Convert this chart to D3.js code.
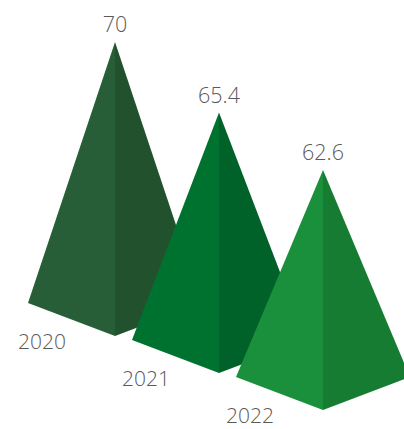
<!DOCTYPE html>
<html><head><meta charset="utf-8">
<script src="https://cdn.jsdelivr.net/npm/d3@7"></script>
<style>html,body{margin:0;padding:0;background:#fff;overflow:hidden}</style>
</head><body>
<svg id="c" width="404" height="429"></svg>
<script>
const categories = ["2020", "2021", "2022"];
const values = [70, 65.4, 62.6];
const leftColors = ["#275e37", "#00722f", "#1b903c"];
const rightColors = ["#22512d", "#006129", "#167c32"];

const svg = d3.select("#c");
const halfW = 87, depth = 33;

const x = d3.scalePoint().domain(categories).range([115, 323]);
const base = d3.scalePoint().domain(categories).range([303, 377]);
const h = d3.scaleLinear().domain([62.6, 70]).range([207, 261]);

const data = categories.map((c, i) => ({c, v: values[i], l: leftColors[i], r: rightColors[i]}));

const g = svg.append("g");
data.forEach(d => {
  const cx = x(d.c), by = base(d.c), top = by - h(d.v);
  const apex = [cx, top], L = [cx - halfW, by], F = [cx, by + depth], R = [cx + halfW, by];
  g.append("polygon").attr("points", [apex, L, F].map(p => p.join(",")).join(" ")).attr("fill", d.l);
  g.append("polygon").attr("points", [apex, F, R].map(p => p.join(",")).join(" ")).attr("fill", d.r);
  g.append("text").attr("x", cx).attr("y", top - 10).attr("text-anchor", "middle")
    .attr("font-family", "Open Sans, sans-serif").attr("font-weight", 300).attr("font-size", 21.5)
    .attr("fill", "#595959").text(d.v);
  g.append("text").attr("x", cx - 73).attr("y", by + 46).attr("text-anchor", "middle")
    .attr("font-family", "Open Sans, sans-serif").attr("font-weight", 300).attr("font-size", 21)
    .attr("fill", "#595959").text(d.c);
});
</script>
</body></html>
